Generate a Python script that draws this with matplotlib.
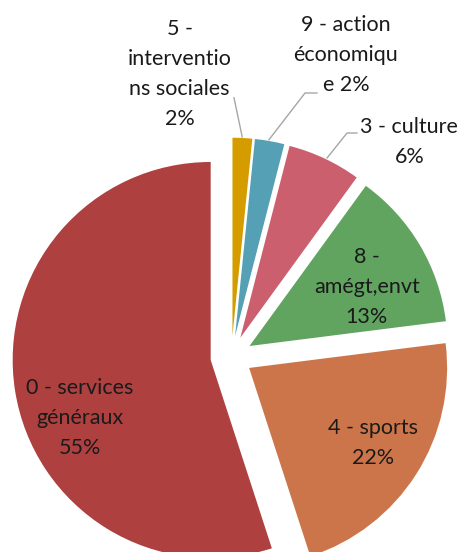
import matplotlib
matplotlib.use("Agg")
import matplotlib.pyplot as plt

# budget split by function, clockwise from 12 o'clock
labels = ["5 -\ninterventio\nns sociales\n2%",
          "9 - action\néconomiqu\ne 2%",
          "3 - culture\n6%",
          "8 -\namégt,envt\n13%",
          "4 - sports\n22%",
          "0 - services\ngénéraux\n55%"]
shares = [1.6, 2.4, 6.0, 13.0, 22.0, 55.0]
colors = ["#D59C00", "#55A0B5", "#CC5F6E", "#60A460", "#CD754A", "#AE4040"]

# label centres (data units, radius = 1)
label_pos = [(-0.261, 1.428), (0.578, 1.524), (0.899, 1.082),
             (0.684, 0.352), (0.715, -0.438), (-0.764, -0.311)]

plt.rcParams['font.family'] = ['Lato', 'DejaVu Sans']

fig = plt.figure(figsize=(4.61, 5.52), dpi=100)
ax = fig.add_axes([0, 0, 1, 1])

ax.pie(shares, colors=colors, startangle=90, counterclock=False,
       explode=[0.106] * len(shares), radius=1.0)

for txt, (x, y) in zip(labels, label_pos):
    ax.text(x, y, txt, ha="center", va="center", fontsize=15.5,
            color="#1a1a1a", linespacing=1.62)

# leader lines for the small outside labels
ax.plot([0.0545, 0.0131], [1.1106, 1.3076], color="#A6A6A6", lw=1.0)
ax.plot([0.19, 0.3717, 0.432], [1.096, 1.3318, 1.3318], color="#A6A6A6", lw=1.0)
ax.plot([0.483, 0.584, 0.634], [1.0035, 1.1298, 1.1298], color="#A6A6A6", lw=1.0)

ax.set_xlim(-1.1687, 1.1596)
ax.set_ylim(-0.9864, 1.8015)
ax.set_aspect("auto")
ax.axis("off")

fig.savefig("out.png", dpi=100)
